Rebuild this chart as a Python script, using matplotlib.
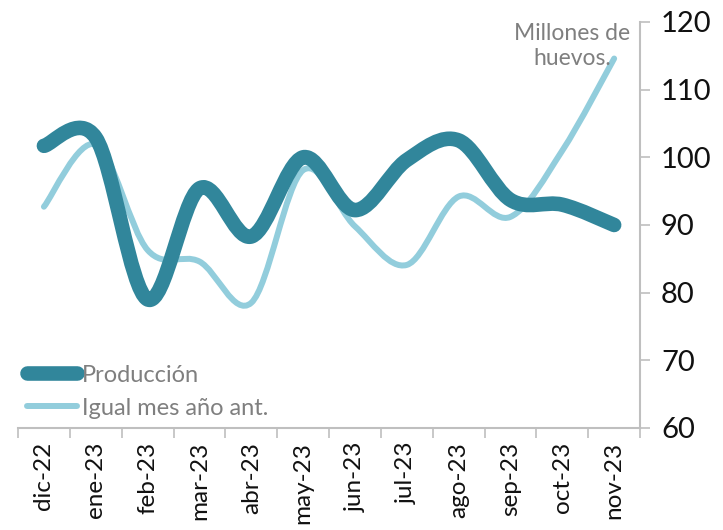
import matplotlib.pyplot as plt
import numpy as np
from matplotlib.path import Path
from matplotlib.patches import PathPatch
from matplotlib.lines import Line2D

plt.rcParams['font.family'] = ['Lato', 'DejaVu Sans']

meses = ['dic-22', 'ene-23', 'feb-23', 'mar-23', 'abr-23', 'may-23',
         'jun-23', 'jul-23', 'ago-23', 'sep-23', 'oct-23', 'nov-23']
produccion = [101.7, 102.9, 79.0, 95.4, 88.3, 100.0,
              92.2, 99.6, 102.5, 93.7, 93.0, 90.0]
igual_mes = [92.7, 101.9, 86.3, 84.6, 78.5, 98.1,
             89.8, 84.1, 94.2, 91.2, 101.0, 114.6]

C_PROD = '#31869b'
C_ANT = '#92cddc'
GRIS = '#bfbfbf'


def curva_suave(x, y):
    # bezier cúbico tipo catmull-rom, como las líneas suavizadas de Excel
    x = np.asarray(x, float)
    y = np.asarray(y, float)
    p = np.column_stack([x, y])
    verts = [p[0]]
    codes = [Path.MOVETO]
    n = len(p)
    for i in range(n - 1):
        p0 = p[max(i - 1, 0)]
        p1 = p[i]
        p2 = p[i + 1]
        p3 = p[min(i + 2, n - 1)]
        c1 = p1 + (p2 - p0) / 6
        c2 = p2 - (p3 - p1) / 6
        verts += [c1, c2, p2]
        codes += [Path.CURVE4] * 3
    return Path(verts, codes)


fig = plt.figure(figsize=(7.23, 5.30), dpi=100)
ax = fig.add_axes([0.0249, 0.1925, 0.8604, 0.766])

x = np.arange(len(meses))
ax.add_patch(PathPatch(curva_suave(x, igual_mes), fill=False, edgecolor=C_ANT,
                       lw=4.3, capstyle='round', joinstyle='round', zorder=2))
ax.add_patch(PathPatch(curva_suave(x, produccion), fill=False, edgecolor=C_PROD,
                       lw=10.5, capstyle='round', joinstyle='round', zorder=3))

ax.set_xlim(-0.5, len(meses) - 0.5)
ax.set_ylim(60, 120)
ax.set_yticks(range(60, 121, 10))
ax.yaxis.tick_right()
ax.set_xticks(x)
ax.set_xticklabels(meses, rotation=90, fontsize=17.5, color='#111111')
ax.set_xticks(np.arange(-0.5, len(meses)), minor=True)
ax.tick_params(axis='x', which='major', length=0, pad=10)
ax.tick_params(axis='x', which='minor', length=7, color=GRIS, width=1.2)
ax.tick_params(axis='y', length=7, color=GRIS, width=1.2, labelsize=21, pad=8,
               right=True, left=False, labelcolor='#111111')

for s in ['top', 'left']:
    ax.spines[s].set_visible(False)
for s in ['bottom', 'right']:
    ax.spines[s].set_color(GRIS)
    ax.spines[s].set_linewidth(1.5)

fig.text(572 / 723, 1 - 46 / 530, 'Millones de\nhuevos.',
         ha='center', va='center', multialignment='center', fontsize=16.5,
         color='#7f7f7f', linespacing=1.25)

handles = [Line2D([], [], color=C_PROD, lw=10.5, solid_capstyle='round'),
           Line2D([], [], color=C_ANT, lw=4.3, solid_capstyle='round')]
leg = ax.legend(handles, ['Producción', 'Igual mes año ant.'], loc='lower left',
                bbox_to_anchor=(0.0, 0.0), frameon=False, fontsize=17,
                handlelength=2.1, handletextpad=0.2, labelspacing=0.5,
                borderaxespad=0.0)
for t in leg.get_texts():
    t.set_color('#7f7f7f')

fig.savefig('out.png', dpi=100)
